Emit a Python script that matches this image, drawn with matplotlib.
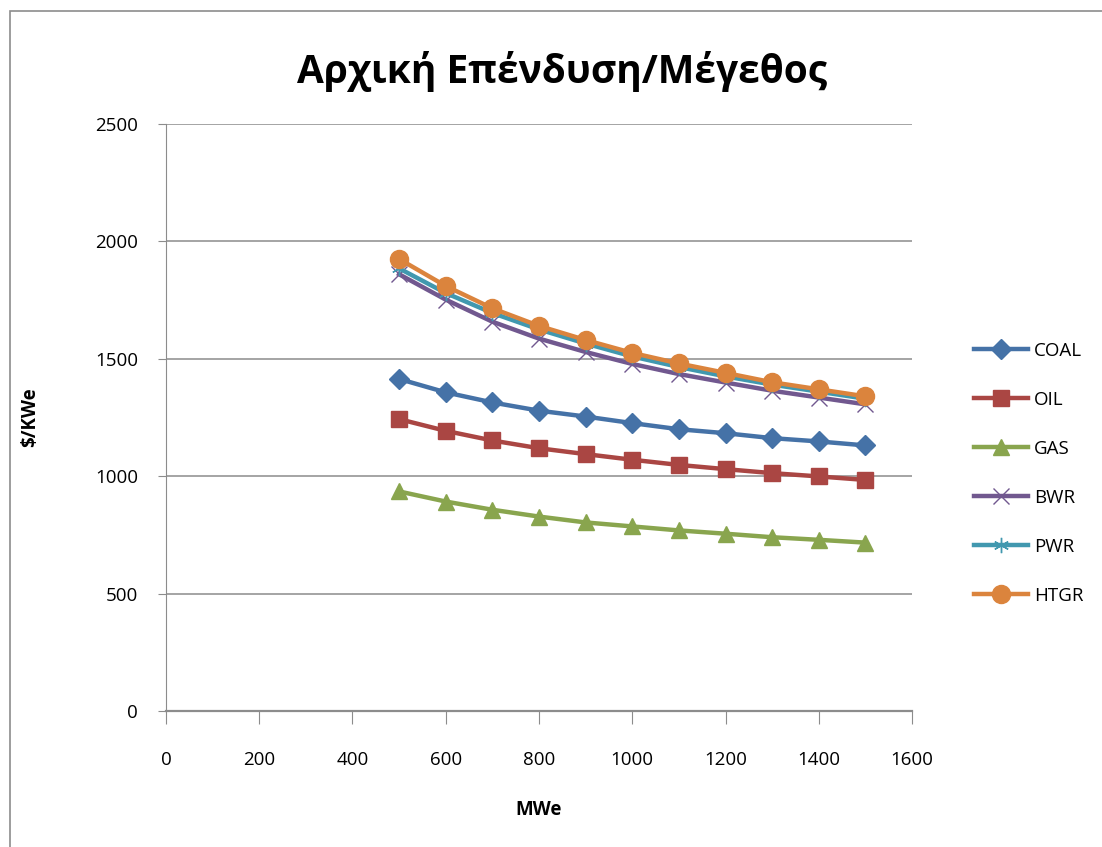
import matplotlib
matplotlib.use('Agg')
import matplotlib.pyplot as plt
import matplotlib.patches as patches

plt.rcParams['font.family'] = ['Open Sans', 'DejaVu Sans']

# data
mwe = [500, 600, 700, 800, 900, 1000, 1100, 1200, 1300, 1400, 1500]
coal = [1414, 1357, 1314, 1279, 1254, 1226, 1200, 1183, 1162, 1148, 1131]
oil = [1243, 1193, 1152, 1119, 1094, 1070, 1048, 1030, 1013, 999, 984]
gas = [935, 892, 857, 828, 803, 786, 769, 755, 740, 729, 717]
bwr = [1860, 1752, 1658, 1586, 1529, 1478, 1435, 1399, 1364, 1335, 1306]
pwr = [1885, 1780, 1695, 1625, 1565, 1510, 1465, 1425, 1390, 1360, 1330]
htgr = [1925, 1810, 1715, 1640, 1580, 1525, 1480, 1440, 1400, 1370, 1340]

fig = plt.figure(figsize=(11.02, 8.47), dpi=100)
ax = fig.add_axes([0.1506, 0.1606, 0.677, 0.693])

# outer chart border (runs off the right and bottom edge)
border = patches.Rectangle((10/1102, -0.05), 1.1, 1 - 11/847 + 0.05, transform=fig.transFigure,
                           fill=False, edgecolor='#8c8c8c', linewidth=1.2)
fig.patches.append(border)

lw = 3.2
ax.plot(mwe, coal, color='#4572A7', lw=lw, marker='D', ms=10, label='COAL')
ax.plot(mwe, oil, color='#AA4643', lw=lw, marker='s', ms=12, label='OIL')
ax.plot(mwe, gas, color='#89A54E', lw=lw, marker='^', ms=12, label='GAS')
ax.plot(mwe, bwr, color='#71588F', lw=lw, marker='x', ms=11, mew=1.0, label='BWR')
ax.plot(mwe, pwr, color='#4198AF', lw=lw, marker=(6, 2, 0), ms=11, mew=1.0, label='PWR')
ax.plot(mwe, htgr, color='#DB843D', lw=lw, marker='o', ms=13, label='HTGR')

ax.set_xlim(0, 1600)
ax.set_ylim(0, 2500)
ax.set_xticks(range(0, 1601, 200))
ax.set_yticks(range(0, 2501, 500))
ax.yaxis.grid(True, color='#8c8c8c', linewidth=1.1)
ax.set_axisbelow(True)
for s in ['top', 'right']:
    ax.spines[s].set_visible(False)
for s in ['left', 'bottom']:
    ax.spines[s].set_color('#8c8c8c')
ax.spines['bottom'].set_linewidth(1.6)
ax.tick_params(axis='x', direction='out', length=9, color='#8c8c8c', pad=20, labelsize=13.5)
ax.tick_params(axis='y', direction='out', length=6, color='#8c8c8c', pad=14, labelsize=13.5)

ax.set_xlabel('MWe', fontsize=13.5, fontweight='bold', labelpad=22)
ax.set_ylabel('$/KWe', fontsize=13.5, fontweight='bold', labelpad=40)
fig.text(0.51, 0.915, 'Αρχική Επένδυση/Μέγεθος', ha='center', va='center',
         fontsize=28, fontweight='bold')

ax.legend(loc='center left', bbox_to_anchor=(1.06, 0.405), frameon=False, fontsize=13.5,
          labelspacing=1.65, handlelength=2.9, handletextpad=0.3)

plt.savefig('out.png', dpi=100)
